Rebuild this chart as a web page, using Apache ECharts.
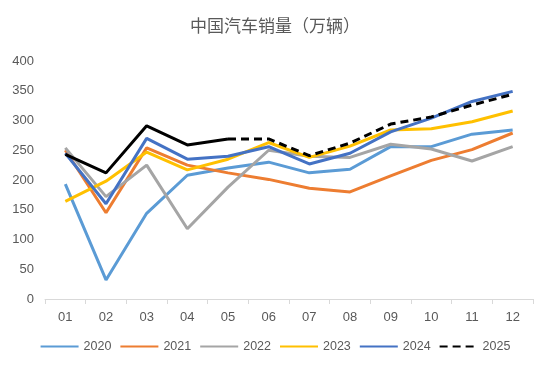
<!DOCTYPE html>
<html><head><meta charset="utf-8">
<script src="https://cdn.jsdelivr.net/npm/echarts@6/dist/echarts.min.js"></script>
<style>html,body{margin:0;padding:0;background:#fff}#c{width:550px;height:372px}</style>
</head><body><div id="c"></div>
<script>
const months = ['01','02','03','04','05','06','07','08','09','10','11','12'];
const s2020 = [193, 32, 144, 208, 220, 230, 212, 218, 256, 256, 277, 284];
const s2021 = [250, 145, 254, 225, 212, 201, 186, 180, 207, 233, 251, 279];
const s2022 = [254, 172, 225, 118, 188, 250, 240, 238, 260, 252, 232, 256];
const s2023 = [164, 198, 247, 217, 235, 263, 238, 257, 284, 286, 298, 316];
const s2024 = [245, 160, 270, 235, 240, 256, 227, 245, 281, 304, 332, 349];
const s2025actual = [243, 212, 291, 259, 269, null, null, null, null, null, null, null];
const s2025fcst = [null, null, null, null, 269, 269, 241, 262, 294, 306, 326, 344];
const yTicks = {min: 0, max: 400, interval: 50};

const txt = '#595959';
function line(name, data, color, dashed) {
  return {name, type: 'line', data, symbol: 'none', connectNulls: false,
    lineStyle: {color, width: 3, type: dashed ? [8, 5] : 'solid', cap: 'butt'},
    itemStyle: {color}, emphasis: {disabled: true}};
}
const chart = echarts.init(document.getElementById('c'), null, {renderer: 'canvas'});
chart.setOption({
  animation: false,
  title: {text: '中国汽车销量（万辆）', left: 'center', top: 12,
    textStyle: {fontSize: 17, fontWeight: 'normal', color: txt, fontFamily: 'Noto Sans CJK SC'}},
  legend: {bottom: 14, left: 'center', itemWidth: 38, itemHeight: 10, itemGap: 8,
    itemStyle: {opacity: 0},
    textStyle: {fontSize: 12.5, color: txt, fontFamily: 'Liberation Sans'},
    data: ['2020','2021','2022','2023','2024','2025']},
  grid: {left: 45, right: 17, top: 61, bottom: 73},
  xAxis: {type: 'category', data: months, boundaryGap: true,
    axisLine: {lineStyle: {color: '#D9D9D9', width: 1}},
    axisTick: {show: true, length: 5, lineStyle: {color: '#D9D9D9'}},
    axisLabel: {color: txt, fontSize: 13, margin: 12, fontFamily: 'Liberation Sans'}},
  yAxis: {type: 'value', min: yTicks.min, max: yTicks.max, interval: yTicks.interval,
    splitLine: {show: false}, axisLine: {show: false}, axisTick: {show: false},
    axisLabel: {color: txt, fontSize: 13, margin: 11, fontFamily: 'Liberation Sans'}},
  series: [
    line('2020', s2020, '#5B9BD5'),
    line('2021', s2021, '#ED7D31'),
    line('2022', s2022, '#A5A5A5'),
    line('2023', s2023, '#FFC000'),
    line('2024', s2024, '#4472C4'),
    line('2025 实际', s2025actual, '#000000'),
    line('2025', s2025fcst, '#000000', true)
  ]
});
</script></body></html>
